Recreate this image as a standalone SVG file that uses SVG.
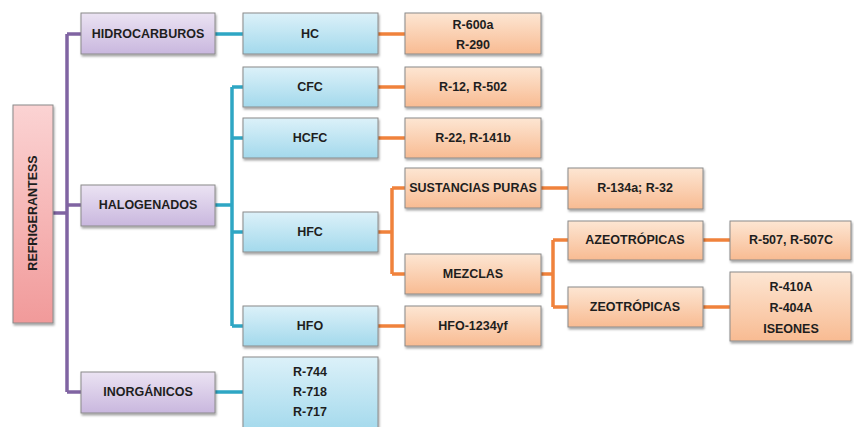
<svg xmlns="http://www.w3.org/2000/svg" width="854" height="427" viewBox="0 0 854 427">
<defs>
<linearGradient id="gPink" x1="0" y1="0" x2="0" y2="1"><stop offset="0" stop-color="#fbd3d3"/><stop offset="1" stop-color="#f19a9a"/></linearGradient>
<linearGradient id="gPurple" x1="0" y1="0" x2="0" y2="1"><stop offset="0" stop-color="#ebe3f3"/><stop offset="1" stop-color="#c9b7de"/></linearGradient>
<linearGradient id="gBlue" x1="0" y1="0" x2="0" y2="1"><stop offset="0" stop-color="#dcf1f9"/><stop offset="1" stop-color="#a3d9ec"/></linearGradient>
<linearGradient id="gOrange" x1="0" y1="0" x2="0" y2="1"><stop offset="0" stop-color="#fde6d3"/><stop offset="1" stop-color="#f8bb92"/></linearGradient>
<filter id="sh" x="-10%" y="-10%" width="130%" height="140%"><feDropShadow dx="1" dy="2" stdDeviation="1.2" flood-color="#000" flood-opacity="0.35"/></filter>
</defs>
<style>
.box{stroke:#8a8a8a;stroke-width:1;filter:url(#sh)}
.pk{fill:url(#gPink)}
.pu{fill:url(#gPurple)}
.bl{fill:url(#gBlue)}
.or{fill:url(#gOrange)}
text{font-family:"Liberation Sans",Arial,sans-serif;font-weight:bold;font-size:12.5px;fill:#1e1e1e;text-anchor:middle;dominant-baseline:central}
.c{fill:none;stroke-width:3.5}
.cp{stroke:#8064a2}
.cb{stroke:#2ea6c4}
.co{stroke:#f0823c}
</style>
<g id="connectors">
<path class="c cp" d="M53 213H67M67 34V392M67 34H81M67 205H81M67 392H81"/>
<path class="c cb" d="M215 34H243M215 205H232M232 87V326M232 87H243M232 138H243M232 232H243M232 326H243M215 392H243"/>
<path class="c co" d="M378 34H405M378 87H405M378 138H405M378 326H405M378 232H392M392 188V274M392 188H405M392 274H405M541 188H568M541 274H553M553 240V307M553 240H568M553 307H568M703 240H730M703 307H730"/>
</g>
<g id="refrigerantes"><rect class="box pk" x="13" y="105" width="40" height="218"/><text transform="translate(33 213) rotate(-90)">REFRIGERANTESS</text></g>
<g id="hidrocarburos"><rect class="box pu" x="81" y="13" width="134" height="41"/><text x="148" y="34">HIDROCARBUROS</text></g>
<g id="halogenados"><rect class="box pu" x="81" y="185" width="134" height="41"/><text x="148" y="205">HALOGENADOS</text></g>
<g id="inorganicos"><rect class="box pu" x="81" y="372" width="134" height="41"/><text x="148" y="392">INORGÁNICOS</text></g>
<g id="hc"><rect class="box bl" x="243" y="13" width="135" height="41"/><text x="310" y="34">HC</text></g>
<g id="cfc"><rect class="box bl" x="243" y="67" width="135" height="40"/><text x="310" y="87">CFC</text></g>
<g id="hcfc"><rect class="box bl" x="243" y="118" width="135" height="40"/><text x="310" y="138">HCFC</text></g>
<g id="hfc"><rect class="box bl" x="243" y="212" width="135" height="40"/><text x="310" y="232">HFC</text></g>
<g id="hfo"><rect class="box bl" x="243" y="306" width="135" height="40"/><text x="310" y="326">HFO</text></g>
<g id="inorg-list"><rect class="box bl" x="243" y="357" width="135" height="75"/><text x="310" y="372">R-744</text><text x="310" y="392">R-718</text><text x="310" y="412">R-717</text></g>
<g id="r600a"><rect class="box or" x="405" y="13" width="136" height="41"/><text x="473" y="25">R-600a</text><text x="473" y="45">R-290</text></g>
<g id="r12"><rect class="box or" x="405" y="67" width="136" height="40"/><text x="473" y="87">R-12, R-502</text></g>
<g id="r22"><rect class="box or" x="405" y="118" width="136" height="40"/><text x="473" y="138">R-22, R-141b</text></g>
<g id="sustancias"><rect class="box or" x="405" y="168" width="136" height="40"/><text x="473" y="188">SUSTANCIAS PURAS</text></g>
<g id="mezclas"><rect class="box or" x="405" y="254" width="136" height="40"/><text x="473" y="274">MEZCLAS</text></g>
<g id="hfo1234"><rect class="box or" x="405" y="306" width="136" height="40"/><text x="473" y="326">HFO-1234yf</text></g>
<g id="r134a"><rect class="box or" x="568" y="168" width="135" height="41"/><text x="635" y="188">R-134a; R-32</text></g>
<g id="azeo"><rect class="box or" x="568" y="221" width="135" height="39"/><text x="635" y="240">AZEOTRÓPICAS</text></g>
<g id="zeo"><rect class="box or" x="568" y="287" width="135" height="40"/><text x="635" y="307">ZEOTRÓPICAS</text></g>
<g id="r507"><rect class="box or" x="730" y="221" width="121" height="39"/><text x="791" y="240">R-507, R-507C</text></g>
<g id="r410"><rect class="box or" x="730" y="272" width="121" height="69"/><text x="791" y="287">R-410A</text><text x="791" y="308">R-404A</text><text x="791" y="329">ISEONES</text></g>
</svg>
